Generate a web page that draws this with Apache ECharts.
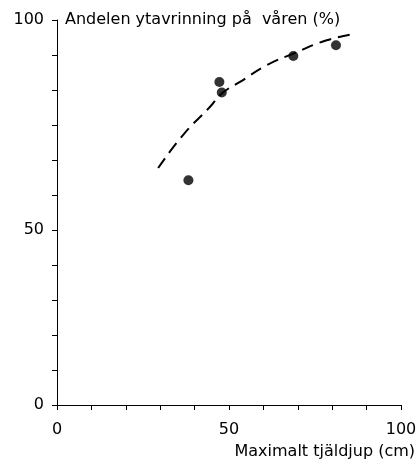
<!DOCTYPE html>
<html>
<head>
<meta charset="utf-8">
<script src="https://cdn.jsdelivr.net/npm/echarts@6/dist/echarts.min.js"></script>
<style>
html,body{margin:0;padding:0;background:#fff;}
#c{width:420px;height:461px;}
</style>
</head>
<body>
<div id="c"></div>
<script>
// Observed points: maximal frost depth (cm) vs share of spring surface runoff (axis units)
var depthCm = [38.2, 47.2, 47.9, 68.7, 81.1];
var runoffShare = [64.2, 92.3, 89.3, 99.7, 102.8];
// Dashed fitted curve
var curveX = [29.4, 36.7, 44.5, 47.9, 53.2, 61.0, 68.7, 78.4, 86.9];
var curveY = [67.7, 77.2, 85.2, 89.0, 92.3, 97.1, 100.4, 104.2, 106.1];
// Tick labels shown on the y axis (axis value -> label)
var yTickValues = [0, 50, 110];
var yTickLabels = ['0', '50', '100'];
var xTickLabels = ['0', '50', '100'];
var yTitle = 'Andelen ytavrinning på  våren (%)';
var xTitle = 'Maximalt tjäldjup (cm)';

var font = 'DejaVu Sans';
var ink = '#000';

var chart = echarts.init(document.getElementById('c'), null, {renderer: 'canvas'});
chart.setOption({
  animation: false,
  backgroundColor: '#fff',
  grid: {left: 57, right: 19, top: 20, bottom: 56},
  xAxis: {
    type: 'value', min: 0, max: 100, interval: 10,
    axisLine: {show: true, lineStyle: {color: ink, width: 1}},
    axisTick: {show: true, length: 5, lineStyle: {color: ink, width: 1}},
    splitLine: {show: false},
    axisLabel: {
      margin: 17, color: ink, fontFamily: font, fontSize: 16,
      showMaxLabel: true, showMinLabel: true,
      formatter: function (v) {
        var s = String(Math.round(v));
        return xTickLabels.indexOf(s) >= 0 ? s : '';
      }
    },
    name: xTitle, nameLocation: 'end', nameGap: 0,
    nameTextStyle: {color: ink, fontFamily: font, fontSize: 16, align: 'right',
      verticalAlign: 'top', padding: [39, -14, 0, 0]}
  },
  yAxis: {
    type: 'value', min: 0, max: 110, interval: 10,
    axisLine: {show: true, lineStyle: {color: ink, width: 1}},
    axisTick: {show: true, length: 5, lineStyle: {color: ink, width: 1}},
    splitLine: {show: false},
    axisLabel: {
      margin: 13, color: ink, fontFamily: font, fontSize: 16,
      showMaxLabel: true, showMinLabel: true,
      formatter: function (v) {
        var i = yTickValues.indexOf(Math.round(v));
        return i >= 0 ? yTickLabels[i] : '';
      }
    }
  },
  graphic: [{
    type: 'text', left: 65, top: 12,
    style: {text: yTitle, fill: ink, font: '16px "DejaVu Sans"'}
  }],
  series: [{
    type: 'line',
    data: curveX.map(function (x, i) { return [x, curveY[i]]; }),
    smooth: true, showSymbol: false, symbol: 'none',
    lineStyle: {color: ink, width: 2, type: [12, 7]},
    z: 2
  }, {
    type: 'scatter',
    data: depthCm.map(function (x, i) { return [x, runoffShare[i]]; }),
    symbol: 'circle', symbolSize: 10,
    itemStyle: {color: ink},
    z: 3
  }]
});
</script>
</body>
</html>
